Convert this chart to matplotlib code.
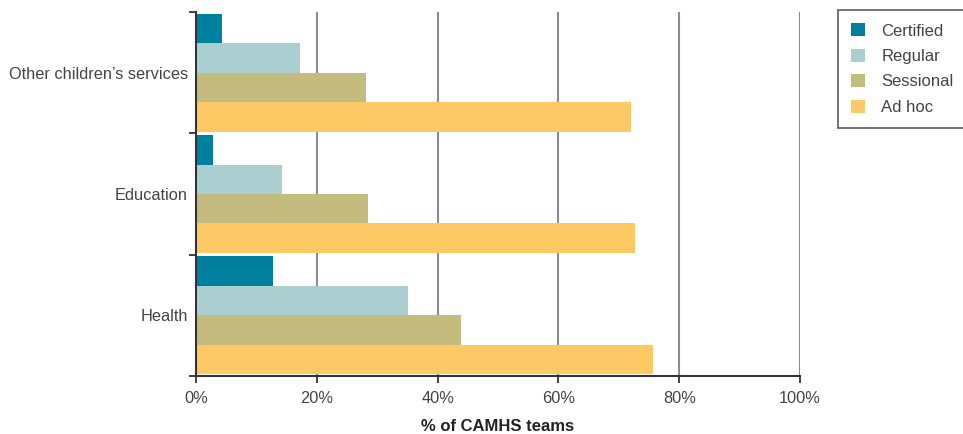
import numpy as np
import matplotlib
matplotlib.use("Agg")
import matplotlib.pyplot as plt
from matplotlib.patches import Patch

plt.rcParams["font.family"] = ["Liberation Sans", "DejaVu Sans"]

categories = ["Health", "Education", "Other children\u2019s services"]
series = ["Certified", "Regular", "Sessional", "Ad hoc"]
certified = [12.7, 2.8, 4.3]
regular = [35.1, 14.2, 17.2]
sessional = [43.9, 28.5, 28.1]
ad_hoc = [75.7, 72.7, 72.0]
colours = ["#00809f", "#abcfd0", "#c4bb7e", "#fdc964"]
xticks = [0, 20, 40, 60, 80, 100]

values = [certified, regular, sessional, ad_hoc]
textcol = "#444444"

fig = plt.figure(figsize=(9.63, 4.34), dpi=100)
ax = fig.add_axes([196/963, 1 - 376/434, (800-196)/963, (376-12)/434])

pos = np.arange(len(categories))
h = 0.243
offsets = [1.5*h, 0.5*h, -0.5*h, -1.5*h]
for vals, off, col in zip(values, offsets, colours):
	ax.barh(pos + off, vals, height=h, color=col, zorder=3, linewidth=0)

# grid
for x in xticks[1:]:
	ax.axvline(x, color="#8c8c8c", linewidth=1.5, zorder=1)

ax.set_xlim(0, 100)
ax.set_ylim(-0.5, len(categories) - 0.5)

ax.set_xticks(xticks)
ax.set_xticklabels([str(x) + "%" for x in xticks], fontsize=11.8, color=textcol)
ax.set_yticks(pos)
ax.set_yticklabels(categories, fontsize=11.8, color=textcol)
ax.set_yticks(np.arange(-0.5, len(categories)), minor=True)
ax.tick_params(axis="y", which="major", length=0, pad=6)
ax.tick_params(axis="y", which="minor", length=5, width=1.3, color="#333333", direction="out")
ax.tick_params(axis="x", length=5, width=1.3, color="#333333", pad=6)

for side in ["top", "right"]:
	ax.spines[side].set_visible(False)
for side in ["left", "bottom"]:
	ax.spines[side].set_color("#333333")
	ax.spines[side].set_linewidth(1.5)
	ax.spines[side].set_zorder(4)

ax.set_xlabel("% of CAMHS teams", fontsize=12, fontweight="bold", color="#222222", labelpad=9)

handles = [Patch(facecolor=c, edgecolor="none") for c in colours]
leg = fig.legend(handles, series, loc="upper left", bbox_to_anchor=(838/963, 1 - 10/434),
	fontsize=12, frameon=True, fancybox=False, edgecolor="#333333",
	handlelength=0.8, handleheight=0.8, handletextpad=1.0, labelspacing=0.62,
	borderpad=0.8, borderaxespad=0)
for t in leg.get_texts():
	t.set_color(textcol)
leg.get_frame().set_linewidth(1.2)

fig.savefig("out.png", dpi=100)
